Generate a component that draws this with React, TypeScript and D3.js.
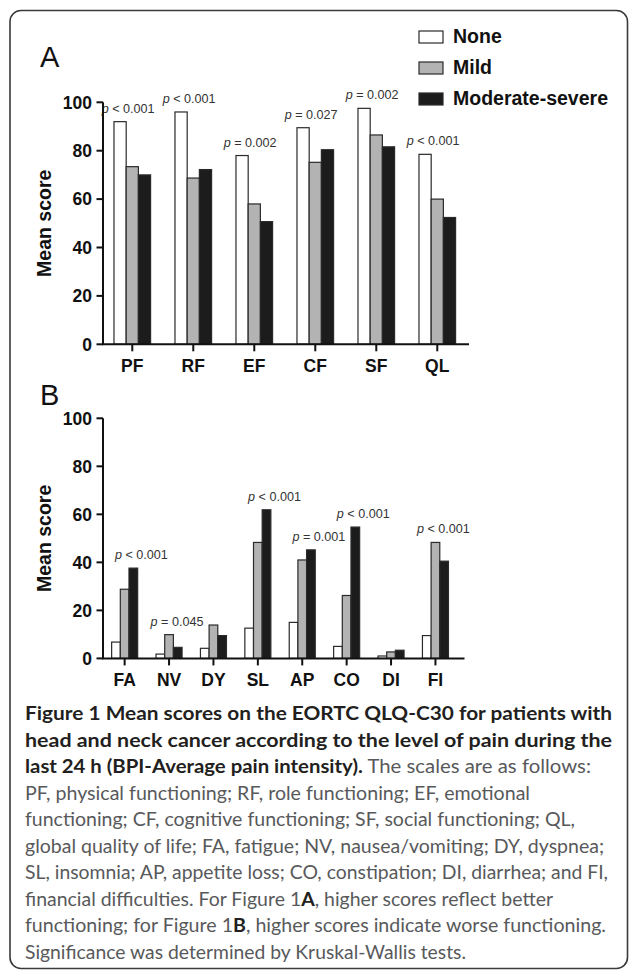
import React from "react";
import * as d3 from "d3";

// ---------- data ----------
const seriesNames = ["None", "Mild", "Moderate-severe"];
const seriesFills = ["#ffffff", "#b3b3b3", "#1c1c1c"];

const catsA = ["PF", "RF", "EF", "CF", "SF", "QL"];
const noneA = [92, 96, 78, 89.5, 97.5, 78.5];
const mildA = [73.4, 68.7, 58, 75.2, 86.5, 60];
const modA = [70, 72.2, 50.7, 80.4, 81.6, 52.4];
const pA = ["< 0.001", "< 0.001", "= 0.002", "= 0.027", "= 0.002", "< 0.001"];

const catsB = ["FA", "NV", "DY", "SL", "AP", "CO", "DI", "FI"];
const noneB = [6.8, 1.8, 4.2, 12.6, 15, 5, 1, 9.5];
const mildB = [28.8, 9.9, 13.9, 48.3, 41, 26.2, 2.7, 48.3];
const modB = [37.6, 4.6, 9.5, 61.9, 45.2, 54.7, 3.4, 40.5];
const pB = ["< 0.001", "= 0.045", "", "< 0.001", "= 0.001", "< 0.001", "", "< 0.001"];

const yTicks = [0, 20, 40, 60, 80, 100];
const yLabel = "Mean score";

type Seg = [string, "b" | "r"];
const captionLines: Seg[][] = [
  [["Figure 1 Mean scores on the EORTC QLQ-C30 for patients with", "b"]],
  [["head and neck cancer according to the level of pain during the", "b"]],
  [["last 24 h (BPI-Average pain intensity).", "b"], [" The scales are as follows:", "r"]],
  [["PF, physical functioning; RF, role functioning; EF, emotional", "r"]],
  [["functioning; CF, cognitive functioning; SF, social functioning; QL,", "r"]],
  [["global quality of life; FA, fatigue; NV, nausea/vomiting; DY, dyspnea;", "r"]],
  [["SL, insomnia; AP, appetite loss; CO, constipation; DI, diarrhea; and FI,", "r"]],
  [["financial difficulties. For Figure 1", "r"], ["A", "b"], [", higher scores reflect better", "r"]],
  [["functioning; for Figure 1", "r"], ["B", "b"], [", higher scores indicate worse functioning.", "r"]],
  [["Significance was determined by Kruskal-Wallis tests.", "r"]],
];

// ---------- layout ----------
const W = 629;
const H = 971;
const FONT = "'Liberation Sans', Arial, Helvetica, sans-serif";
const CAP_FONT = "Lato, 'Open Sans', sans-serif";
const captionWidths = [587, 587, 566, 505, 550, 579, 583, 528, 581, 441];

interface PanelCfg {
  letter: string;
  letterY: number;
  cats: string[];
  series: number[][];
  pvals: string[];
  x0: number;
  x1: number;
  axisEnd: number;
  y0: number;
  y1: number;
  pi: number;
  po: number;
  align: number;
}

function Panel({ cfg }: { cfg: PanelCfg }) {
  const x = d3
    .scaleBand<string>()
    .domain(cfg.cats)
    .range([cfg.x0, cfg.x1])
    .paddingInner(cfg.pi)
    .paddingOuter(cfg.po)
    .align(cfg.align);
  const xs = d3
    .scaleBand<string>()
    .domain(seriesNames)
    .range([0, x.bandwidth()])
    .padding(0);
  const y = d3.scaleLinear().domain([0, 100]).range([cfg.y0, cfg.y1]);
  const axisX = cfg.x0;
  const midY = (cfg.y0 + cfg.y1) / 2;

  return (
    <g>
      <text x={40} y={cfg.letterY} fontFamily={FONT} fontSize={29} fill="#111">
        {cfg.letter}
      </text>
      {/* bars */}
      {cfg.cats.map((c, i) => {
        const gx = x(c)!;
        return (
          <g key={c}>
            {seriesNames.map((s, k) => {
              const v = cfg.series[k][i];
              return (
                <rect
                  key={s}
                  x={gx + xs(s)!}
                  y={y(v)}
                  width={xs.bandwidth()}
                  height={y(0) - y(v)}
                  fill={seriesFills[k]}
                  stroke="#2a2a2a"
                  strokeWidth={1.2}
                />
              );
            })}
          </g>
        );
      })}
      {/* p labels */}
      {cfg.cats.map((c, i) => {
        const p = cfg.pvals[i];
        if (!p) return null;
        const vals = cfg.series.map((s) => s[i]);
        const mk = vals.indexOf(Math.max(...vals));
        const cx = x(c)! + xs(seriesNames[mk])! + xs.bandwidth() / 2 + 8;
        return (
          <text
            key={"p" + c}
            x={cx}
            y={y(vals[mk]) - 9}
            textAnchor="middle"
            fontFamily={FONT}
            fontSize={12.6}
            fill="#333"
          >
            <tspan fontStyle="italic">p</tspan>
            {" " + p}
          </text>
        );
      })}
      {/* y axis */}
      <line x1={axisX} x2={axisX} y1={y(0)} y2={y(100)} stroke="#111" strokeWidth={2} />
      {yTicks.map((t) => (
        <g key={t}>
          <line x1={axisX - 6.5} x2={axisX} y1={y(t)} y2={y(t)} stroke="#111" strokeWidth={2} />
          <text
            x={axisX - 11}
            y={y(t)}
            dy="0.36em"
            textAnchor="end"
            fontFamily={FONT}
            fontWeight="bold"
            fontSize={17.5}
            fill="#111"
          >
            {t}
          </text>
        </g>
      ))}
      <text
        transform={`translate(51,${midY}) rotate(-90)`}
        textAnchor="middle"
        fontFamily={FONT}
        fontWeight="bold"
        fontSize={19.5}
        fill="#111"
      >
        {yLabel}
      </text>
      {/* x axis */}
      <line x1={axisX - 1} x2={cfg.axisEnd} y1={y(0)} y2={y(0)} stroke="#111" strokeWidth={2} />
      {cfg.cats.map((c) => {
        const cx = x(c)! + x.bandwidth() / 2;
        return (
          <g key={"t" + c}>
            <line x1={cx} x2={cx} y1={y(0)} y2={y(0) + 7} stroke="#111" strokeWidth={2} />
            <text
              x={cx}
              y={y(0) + 27.7}
              textAnchor="middle"
              fontFamily={FONT}
              fontWeight="bold"
              fontSize={17.5}
              fill="#111"
            >
              {c}
            </text>
          </g>
        );
      })}
    </g>
  );
}

export default function App() {
  const panelA: PanelCfg = {
    letter: "A",
    letterY: 67,
    cats: catsA,
    series: [noneA, mildA, modA],
    pvals: pA,
    x0: 103,
    x1: 469,
    axisEnd: 469,
    y0: 344.3,
    y1: 102.3,
    pi: 0.4,
    po: 0.2,
    align: 0.45,
  };
  const panelB: PanelCfg = {
    letter: "B",
    letterY: 405,
    cats: catsB,
    series: [noneB, mildB, modB],
    pvals: pB,
    x0: 103,
    x1: 464.5,
    axisEnd: 464.5,
    y0: 658.4,
    y1: 418.3,
    pi: 0.414,
    po: 0.278,
    align: 0.35,
  };

  return (
    <div style={{ position: "absolute", left: 0, top: 0 }}>
      <svg width={W} height={H} viewBox={`0 0 ${W} ${H}`} style={{ display: "block", background: "#fff" }}>
        <rect x={0} y={0} width={W} height={H} fill="#fff" />
        <rect x={10} y={10.5} width={617.5} height={958} rx={11} fill="none" stroke="#3a3a3a" strokeWidth={1.6} />
        {/* legend */}
        {seriesNames.map((s, k) => (
          <g key={s}>
            <rect
              x={419}
              y={31 + k * 31}
              width={24}
              height={12}
              fill={seriesFills[k]}
              stroke="#2a2a2a"
              strokeWidth={1.2}
            />
            <text x={453} y={43 + k * 31} fontFamily={FONT} fontWeight="bold" fontSize={19.5} fill="#111">
              {s}
            </text>
          </g>
        ))}
        <Panel cfg={panelA} />
        <Panel cfg={panelB} />
        {/* caption */}
        {captionLines.map((line, i) => (
          <text
            key={i}
            x={25}
            y={720 + i * 26.5}
            fontFamily={CAP_FONT}
            fontSize={18.5}
            textLength={captionWidths[i]}
            lengthAdjust="spacingAndGlyphs"
          >
            {line.map(([t, st], j) => (
              <tspan
                key={j}
                fontWeight={st === "b" ? "bold" : "normal"}
                fill={st === "b" ? "#231f20" : "#58595b"}
              >
                {t}
              </tspan>
            ))}
          </text>
        ))}
      </svg>
    </div>
  );
}
